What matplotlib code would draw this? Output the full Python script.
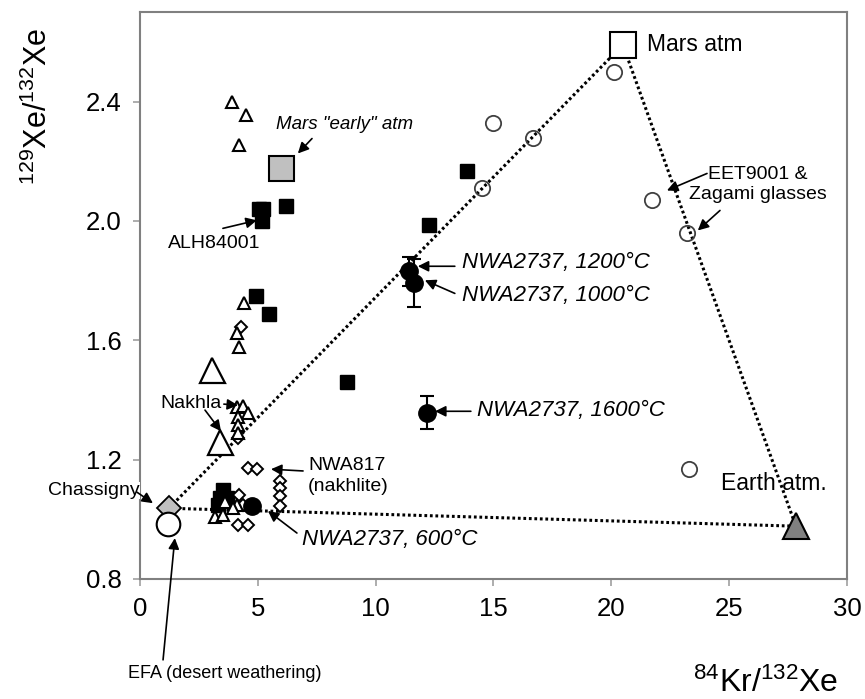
import matplotlib
matplotlib.use("Agg")
import matplotlib.pyplot as plt

plt.rcParams['font.family'] = ['Liberation Sans', 'DejaVu Sans']
plt.rcParams['mathtext.default'] = 'regular'

# --- data (84Kr/132Xe, 129Xe/132Xe) ---
# nakhlites (small open triangles)
tri_x = [3.9, 4.5, 4.2, 4.41, 4.13, 4.2, 4.1, 4.38, 4.6, 4.17, 4.14, 4.15, 3.18, 3.54, 3.6, 4.1, 3.96]
tri_y = [2.40, 2.356, 2.255, 1.725, 1.626, 1.578, 1.377, 1.38, 1.355, 1.343, 1.315, 1.29, 1.008, 1.014, 1.059, 1.048, 1.037]
# Nakhla (large open triangles)
nakhla_x = [3.07, 3.39]
nakhla_y = [1.50, 1.26]
# ALH84001 and others (filled squares)
sq_x = [5.23, 5.06, 5.19, 6.18, 4.92, 5.49, 13.89, 12.27, 8.8, 3.54, 3.39, 3.32, 3.68]
sq_y = [2.04, 2.04, 2.00, 2.05, 1.75, 1.687, 2.167, 1.985, 1.46, 1.098, 1.07, 1.048, 1.07]
# EETA79001 & Zagami glasses (open circles)
circ_x = [20.11, 15.0, 16.69, 14.5, 21.71, 23.2, 23.31]
circ_y = [2.498, 2.327, 2.279, 2.11, 2.069, 1.96, 1.167]
# NWA817 (open diamonds)
dia_x = [4.3, 4.6, 4.98, 5.94, 5.94, 5.94, 5.94, 4.17, 4.6, 4.21, 4.38, 4.74, 4.17]
dia_y = [1.645, 1.173, 1.168, 1.13, 1.105, 1.077, 1.045, 0.981, 0.981, 1.081, 1.048, 1.042, 1.271]
# NWA2737 step heating (1200, 1000, 1600, 600 C)
nwa_x = [11.41, 11.62, 12.16, 4.74]
nwa_y = [1.831, 1.792, 1.357, 1.046]
nwa_err = [0.048, 0.08, 0.055, 0.0]
# end members
mars_atm = (20.49, 2.59)
earth_atm = (27.83, 0.977)
chassigny = (1.23, 1.037)
efa = (1.17, 0.984)
mars_early = (5.98, 2.178)

fig = plt.figure(figsize=(8.65, 6.99), dpi=100)
ax = fig.add_axes([0.1618, 0.1717, 0.8174, 0.8111])

# mixing triangle
tri_line_x = [chassigny[0], mars_atm[0], earth_atm[0], chassigny[0]]
tri_line_y = [chassigny[1], mars_atm[1], earth_atm[1], chassigny[1]]
ax.plot(tri_line_x, tri_line_y, color='black', lw=2.2, linestyle=(0, (0.9, 0.9)), zorder=1)

ax.plot(circ_x, circ_y, 'o', ms=11, mfc='none', mec='#404040', mew=1.3, zorder=2)
ax.plot(sq_x, sq_y, 's', ms=9.5, mfc='black', mec='black', zorder=3)
ax.plot(dia_x, dia_y, 'D', ms=6.3, mfc='white', mec='black', mew=1.4, zorder=3)
ax.plot(tri_x, tri_y, '^', ms=9, mfc='white', mec='black', mew=1.5, zorder=3)
ax.plot(nakhla_x, nakhla_y, '^', ms=18, mfc='white', mec='black', mew=1.6, zorder=3)
ax.errorbar(nwa_x, nwa_y, yerr=nwa_err, fmt='o', ms=12.5, mfc='black', mec='black',
            ecolor='black', elinewidth=1.5, capsize=5, capthick=1.5, zorder=4)

ax.plot(*mars_early, 's', ms=18, mfc='#c0c0c0', mec='black', mew=1.5, zorder=4)
ax.plot(*mars_atm, 's', ms=18.5, mfc='white', mec='black', mew=1.5, zorder=4)
ax.plot(*earth_atm, '^', ms=19, mfc='#808080', mec='black', mew=1.5, zorder=4)
ax.plot(*chassigny, 'D', ms=12.5, mfc='#c0c0c0', mec='black', mew=1.3, zorder=4)
ax.plot(*efa, 'o', ms=17, mfc='white', mec='black', mew=1.5, zorder=5)

ax.set_xlim(0, 30)
ax.set_ylim(0.8, 2.7)
ax.set_xticks([0, 5, 10, 15, 20, 25, 30])
ax.set_yticks([0.8, 1.2, 1.6, 2.0, 2.4])
ax.set_yticklabels(['0.8', '1.2', '1.6', '2.0', '2.4'])
for s in ax.spines.values():
    s.set_color('#808080')
    s.set_linewidth(1.5)
ax.tick_params(direction='out', length=5, width=1.2, color='#a0a0a0', labelsize=18.5, pad=8)

arrow = dict(arrowstyle='-|>', color='black', lw=1.2, mutation_scale=16, shrinkA=0, shrinkB=0)

def note(text, xy, xytext, **kw):
    ax.annotate(text, xy=xy, xytext=xytext, arrowprops=arrow, **kw)

ax.text(21.51, 2.591, 'Mars atm', fontsize=16.5, va='center')
ax.text(24.65, 1.121, 'Earth atm.', fontsize=16.5, va='center')
ax.text(5.77, 2.323, 'Mars "early" atm', fontsize=13.5, style='italic', va='center')
note('', (6.70, 2.226), (7.30, 2.276))
ax.text(1.19, 1.925, 'ALH84001', fontsize=14, va='center')
note('', (4.96, 2.002), (3.52, 1.975))
ax.text(0.85, 1.389, 'Nakhla', fontsize=14, va='center')
note('', (4.16, 1.382), (3.56, 1.386))
note('', (3.44, 1.295), (2.76, 1.366))
ax.text(7.13, 1.146, 'NWA817\n(nakhlite)', fontsize=14, va='center', linespacing=1.3)
note('', (5.56, 1.168), (6.92, 1.162))
ax.text(26.22, 2.122, 'EET9001 &\nZagami glasses', fontsize=14, ha='center', va='center',
        multialignment='center', linespacing=1.3)
note('', (22.36, 2.102), (24.06, 2.159))
note('', (23.67, 1.968), (24.61, 2.035))

ax.text(13.66, 1.861, 'NWA2737, 1200°C', fontsize=16, style='italic', va='center')
note('', (11.79, 1.848), (13.36, 1.848))
ax.text(13.66, 1.751, 'NWA2737, 1000°C', fontsize=16, style='italic', va='center')
note('', (12.09, 1.801), (13.36, 1.757))
ax.text(14.30, 1.366, 'NWA2737, 1600°C', fontsize=16, style='italic', va='center')
note('', (12.52, 1.362), (14.04, 1.362))
ax.text(6.87, 0.931, 'NWA2737, 600°C', fontsize=16, style='italic', va='center')
note('', (5.43, 1.028), (6.66, 0.954))

ax.text(-3.9, 1.098, 'Chassigny', fontsize=14, va='center', clip_on=False, zorder=6,
        bbox=dict(facecolor='white', edgecolor='none', pad=0))
ax.annotate('', xy=(0.55, 1.054), xytext=(-0.13, 1.091), arrowprops=arrow,
            annotation_clip=False, zorder=6)
ax.text(-0.51, 0.482, 'EFA (desert weathering)', fontsize=13, va='center', clip_on=False)
ax.annotate('', xy=(1.48, 0.937), xytext=(0.98, 0.529), arrowprops=arrow,
            annotation_clip=False, zorder=6)

fig.text(38 / 865, 1 - 106 / 699, r'$^{129}$Xe/$^{132}$Xe', rotation=90, fontsize=22,
         ha='center', va='center')
fig.text(766 / 865, 1 - 683 / 699, r'$^{84}$Kr/$^{132}$Xe', fontsize=23,
         ha='center', va='center')

fig.savefig('out.png', dpi=100)
